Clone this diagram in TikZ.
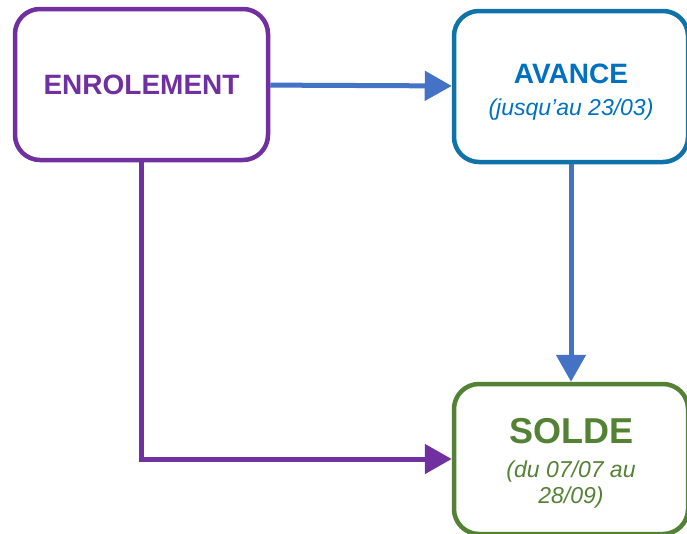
\documentclass[tikz,border=0pt]{standalone}
\usepackage{fontspec}
\setmainfont{Liberation Sans}
\usetikzlibrary{arrows.meta}
\definecolor{violet1}{HTML}{7030A0}
\definecolor{bleu1}{HTML}{0F72A8}
\definecolor{bleutxt}{HTML}{0070C0}
\definecolor{bleufl}{HTML}{4472C4}
\definecolor{vert1}{HTML}{548235}
\tikzset{
  boite/.style={draw,line width=4.5pt,rounded corners=25pt,inner sep=0pt,align=center},
  fleche/.style={line width=5pt,-{Triangle[length=27pt,width=29pt]}}
}
\begin{document}
\begin{tikzpicture}[x=1pt,y=-1pt]
  \useasboundingbox (0,0) rectangle (687,533);
  \clip (0,0) rectangle (687,533);

  \node[boite,draw=violet1,text=violet1,minimum width=253pt,minimum height=151pt,
        font=\fontsize{28}{34}\selectfont\bfseries] (enrol) at (141.5,84.5) {ENROLEMENT};
  \node[boite,draw=bleu1,text=bleutxt,minimum width=234pt,minimum height=151pt,
        font=\fontsize{23}{32}\selectfont\itshape] (avance) at (571,86.5)
    {{\fontsize{28}{32}\selectfont\upshape\bfseries\rule{0pt}{30pt}AVANCE}\\ (jusqu'au 23/03)};
  \node[boite,draw=vert1,text=vert1,minimum width=234pt,minimum height=150pt,
        font=\fontsize{23}{26}\selectfont\itshape] (solde) at (571,459)
    {{\fontsize{36}{40}\selectfont\upshape\bfseries\rule{0pt}{34pt}SOLDE}\\[8pt] (du 07/07 au\\ 28/09)};

  \draw[fleche,bleufl] (enrol) -- (avance);
  \draw[fleche,bleufl] (avance) -- (solde);
  \draw[fleche,violet1] (enrol.south) |- (solde.west);
\end{tikzpicture}
\end{document}
